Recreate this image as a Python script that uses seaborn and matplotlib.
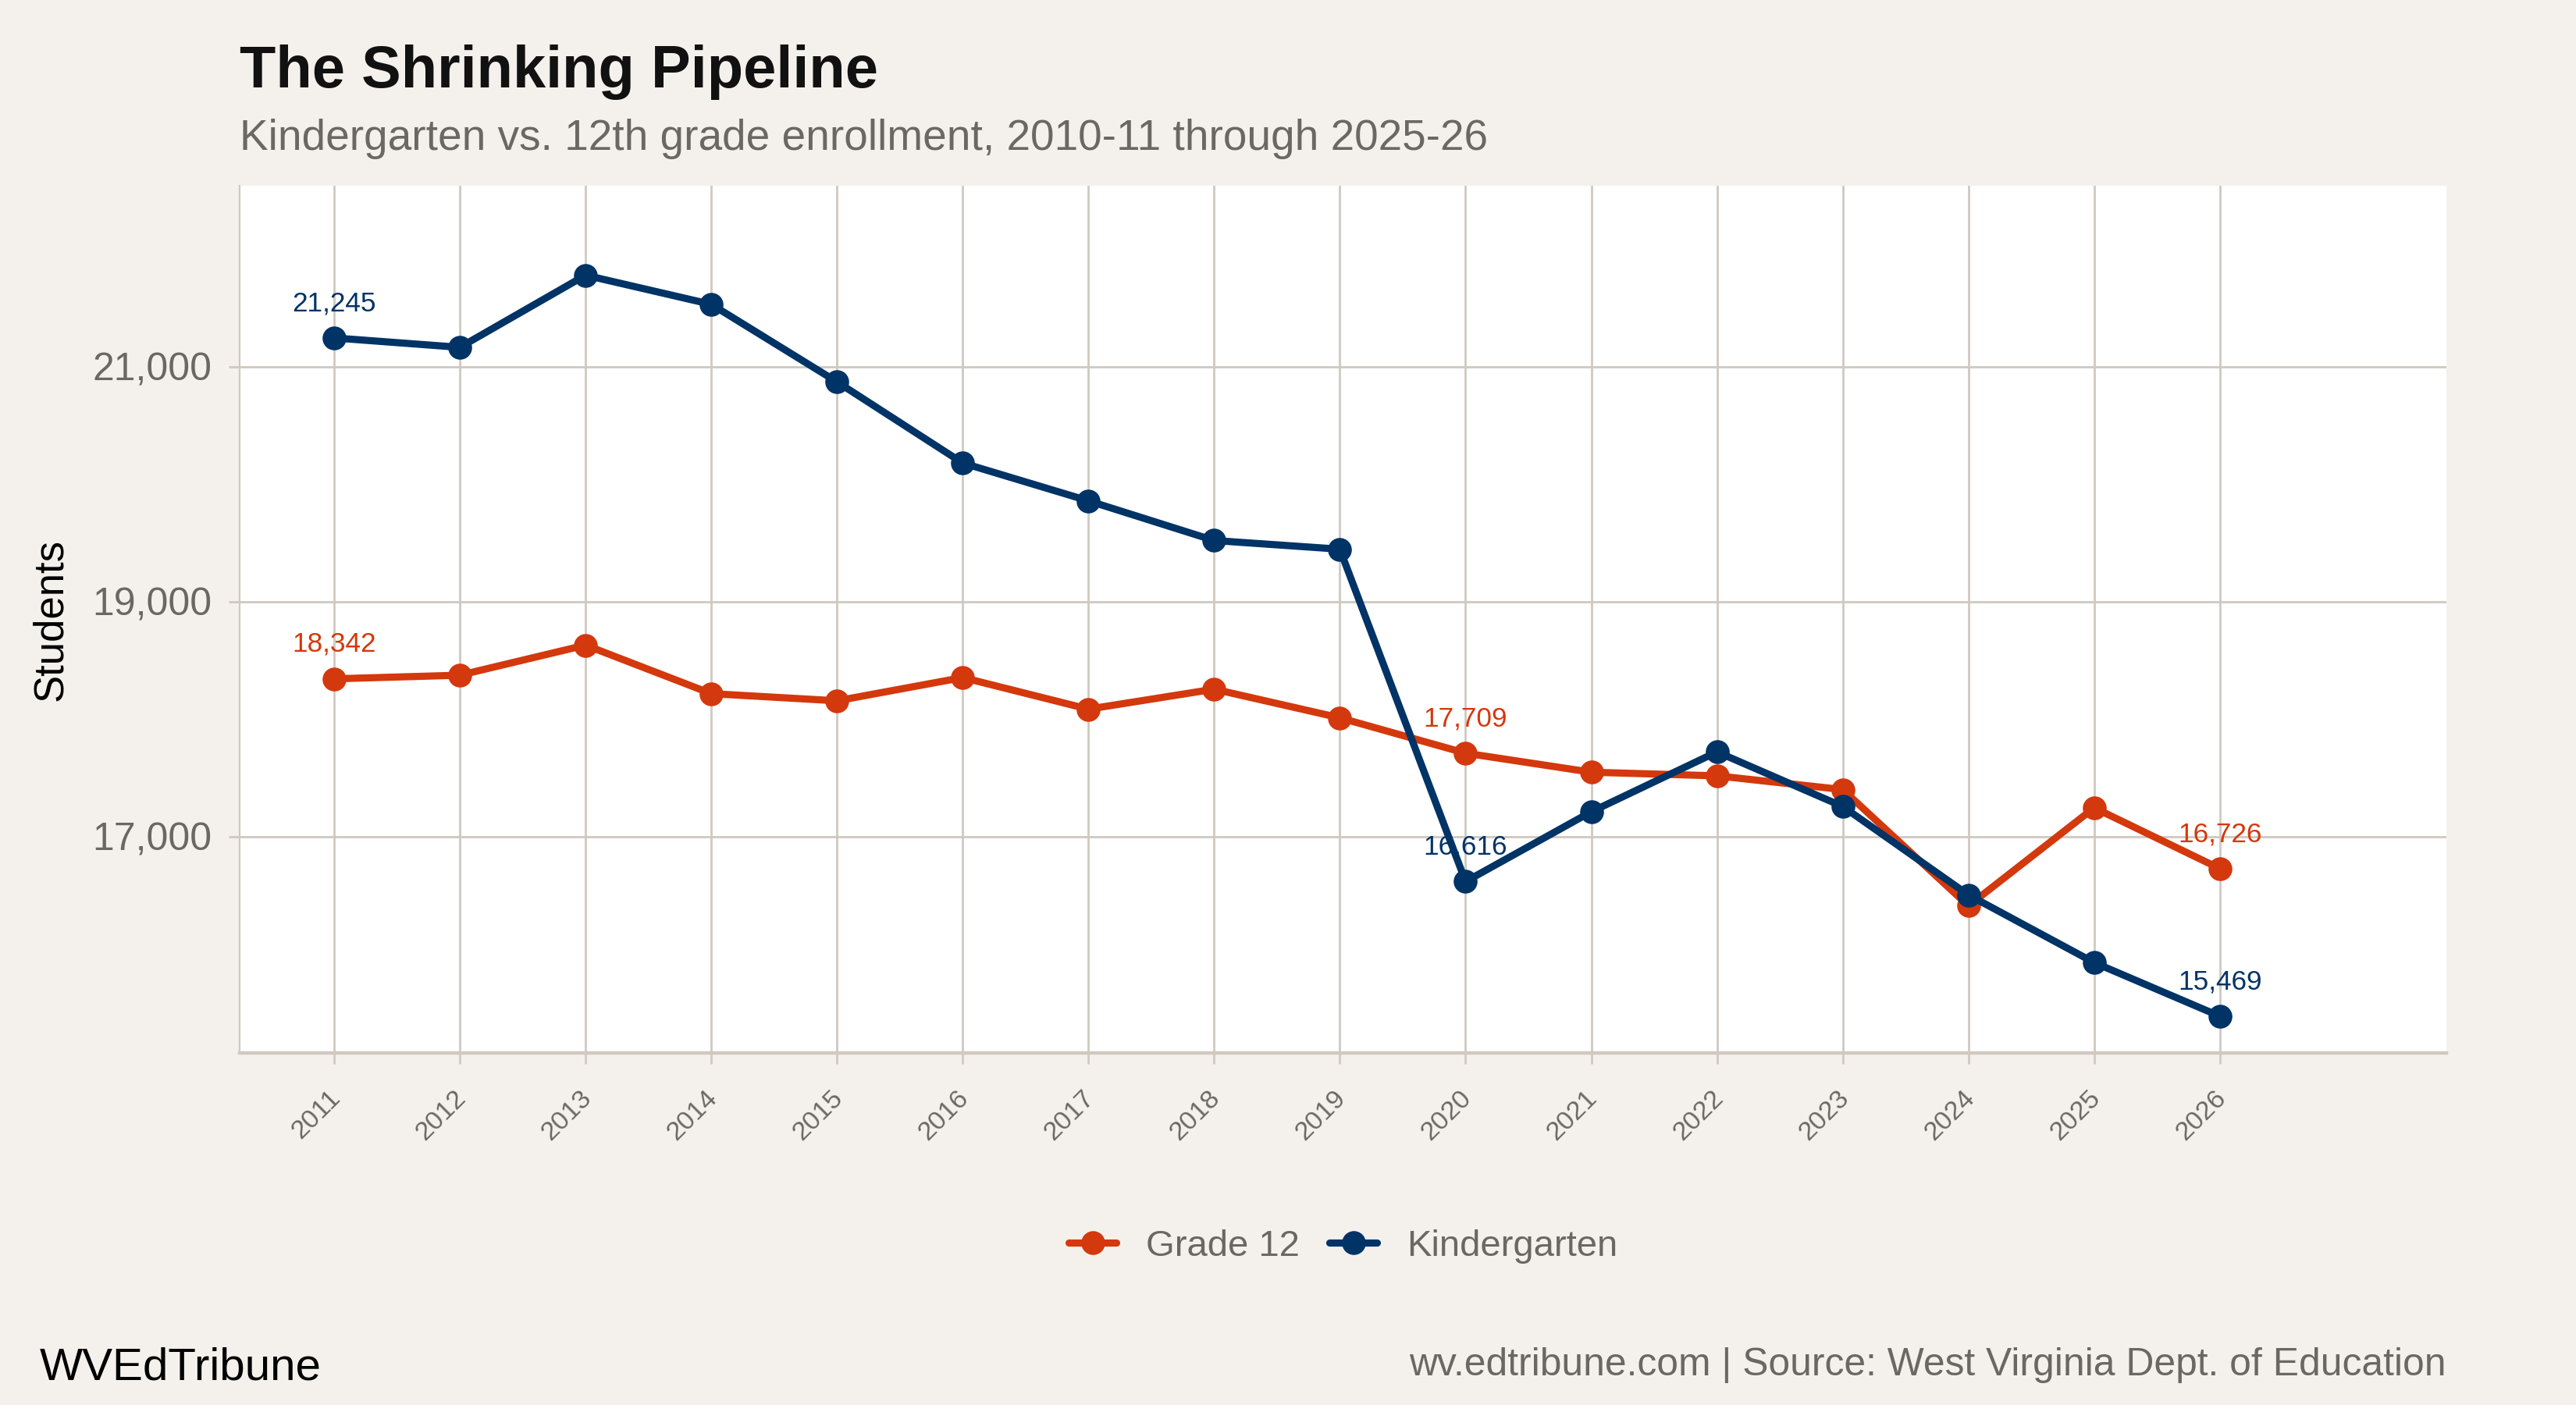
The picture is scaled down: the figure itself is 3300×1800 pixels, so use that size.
import numpy as np
import pandas as pd
import seaborn as sns
import matplotlib.pyplot as plt
from matplotlib.ticker import FuncFormatter
from matplotlib.transforms import ScaledTranslation

# enrollment by school year (spring year)
years = list(range(2011, 2027))
grade12 = [18342, 18373, 18629, 18216, 18155, 18353, 18084, 18254,
           18010, 17709, 17547, 17516, 17399, 16409, 17244, 16726]
kinder = [21245, 21165, 21779, 21531, 20871, 20180, 19858, 19520,
          19446, 16616, 17210, 17720, 17255, 16502, 15926, 15469]
label_years = [2011, 2020, 2026]
series_names = ["Grade 12", "Kindergarten"]
y_ticks = [17000, 19000, 21000]

bg = "#f4f1ec"
grid = "#cfc9c0"
gray = "#6b6863"
colors = {"Grade 12": "#d4380d", "Kindergarten": "#003366"}

df = pd.DataFrame({
    "Year": years * 2,
    "Students": grade12 + kinder,
    "Series": [series_names[0]] * len(years) + [series_names[1]] * len(years),
})

sns.set_theme(style="whitegrid")
plt.rcParams['font.family'] = ['Liberation Sans', 'DejaVu Sans']

fig = plt.figure(figsize=(16.5, 9), dpi=200, facecolor=bg)
ax = fig.add_axes([0.0931, 0.2503, 0.8565, 0.6175])
ax.set_facecolor("white")

sns.lineplot(data=df, x="Year", y="Students", hue="Series", hue_order=series_names,
             palette=colors, marker="o", markersize=11, markeredgewidth=0,
             linewidth=3.3, dashes=False, ax=ax)

# value labels at first, 2020 and last year
for name, vals in zip(series_names, [grade12, kinder]):
    for yr in label_years:
        v = vals[years.index(yr)]
        ax.annotate(f"{v:,}", (yr, v), xytext=(0, 10), textcoords="offset points",
                    ha="center", va="bottom", fontsize=12.7, color=colors[name])

ax.set_xlim(2010.25, 2027.8)
ax.set_ylim(15153, 22541)
ax.set_xticks(years)
ax.set_yticks(y_ticks)
ax.yaxis.set_major_formatter(FuncFormatter(lambda v, p: f"{int(v):,}"))

ax.grid(True, color=grid, linewidth=1.0)
for s in ["top", "right"]:
    ax.spines[s].set_visible(False)
ax.spines["left"].set_color(grid)
ax.spines["left"].set_linewidth(0.8)
ax.spines["bottom"].set_color(grid)
ax.spines["bottom"].set_linewidth(1.6)

ax.tick_params(axis="both", which="major", length=5, width=1.0, color=grid,
               bottom=True, left=True)
ax.tick_params(axis="y", labelsize=18, labelcolor=gray, pad=8)
ax.tick_params(axis="x", labelsize=12.3, labelcolor=gray, pad=10)
for lab in ax.get_xticklabels():
    lab.set_rotation(45)
    lab.set_ha("right")
    lab.set_transform(lab.get_transform() + ScaledTranslation(5 / 72, 0, fig.dpi_scale_trans))

ax.set_xlabel("")
ax.set_ylabel("Students", fontsize=19, color="black", labelpad=10)

sns.move_legend(ax, "center", bbox_to_anchor=(0.5214, 0.113),
                bbox_transform=fig.transFigure, ncol=2, frameon=False, title=None,
                fontsize=17, handlelength=1.3, handletextpad=0.8, columnspacing=0.8)
for t in ax.get_legend().get_texts():
    t.set_color(gray)

fig.text(0.0931, 0.9378, "The Shrinking Pipeline", fontsize=27.3, fontweight="bold",
         color="#111111", ha="left", va="baseline")
fig.text(0.0931, 0.8933, "Kindergarten vs. 12th grade enrollment, 2010-11 through 2025-26",
         fontsize=19.8, color=gray, ha="left", va="baseline")
fig.text(0.0153, 0.0183, "WVEdTribune", fontsize=21, color="black",
         ha="left", va="baseline")
fig.text(0.9496, 0.021, "wv.edtribune.com | Source: West Virginia Dept. of Education",
         fontsize=17.9, color=gray, ha="right", va="baseline")

fig.savefig("out.png", dpi=200, facecolor=bg)
